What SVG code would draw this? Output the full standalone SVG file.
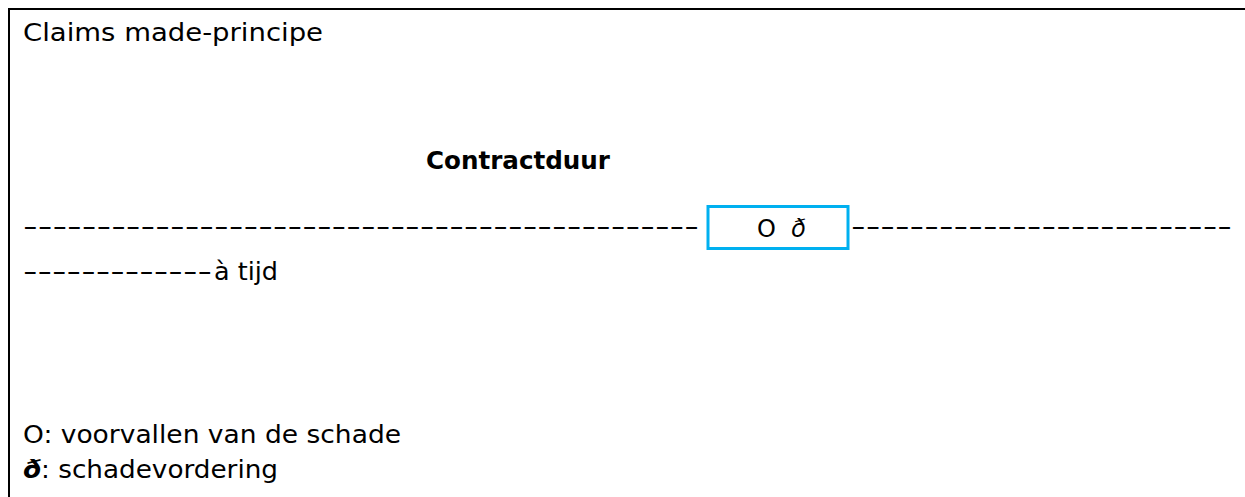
<svg xmlns="http://www.w3.org/2000/svg" width="1245" height="497" viewBox="0 0 1245 497">
  <style>
    .t { font-family: "DejaVu Sans", "Liberation Sans", sans-serif; font-size: 24px; fill: #000; }
    .b { font-weight: bold; }
    .i { font-style: italic; }
  </style>
  <rect x="0" y="0" width="1245" height="497" fill="#fff"/>
  <g id="frame">
    <path d="M9,497 V9 H1245" fill="none" stroke="#000" stroke-width="2"/>
  </g>
  <g id="title">
    <text class="t" x="23" y="41" textLength="300" lengthAdjust="spacingAndGlyphs">Claims made-principe</text>
  </g>
  <g id="contractduur">
    <text class="t b" x="426" y="169" textLength="184" lengthAdjust="spacingAndGlyphs">Contractduur</text>
  </g>
  <g id="connectors">
    <text class="t" x="23" y="235" textLength="676" lengthAdjust="spacingAndGlyphs">----------------------------------------------</text>
    <text class="t" x="851" y="235" textLength="381" lengthAdjust="spacingAndGlyphs">--------------------------</text>
    <text class="t" x="23" y="280" textLength="189" lengthAdjust="spacingAndGlyphs">-------------</text>
    <text class="t" x="214" y="280" textLength="64" lengthAdjust="spacingAndGlyphs">à tijd</text>
  </g>
  <g id="event-box">
    <rect x="708" y="206.5" width="140" height="42" fill="#fff" stroke="#00B0F0" stroke-width="3"/>
    <text class="t" x="757" y="237">O</text>
    <text class="t i" x="791" y="237">ð</text>
  </g>
  <g id="legend">
    <text class="t" x="23" y="443" textLength="378" lengthAdjust="spacingAndGlyphs">O: voorvallen van de schade</text>
    <text class="t" x="23" y="478" textLength="255" lengthAdjust="spacingAndGlyphs"><tspan class="b i">ð</tspan>: schadevordering</text>
  </g>
</svg>
